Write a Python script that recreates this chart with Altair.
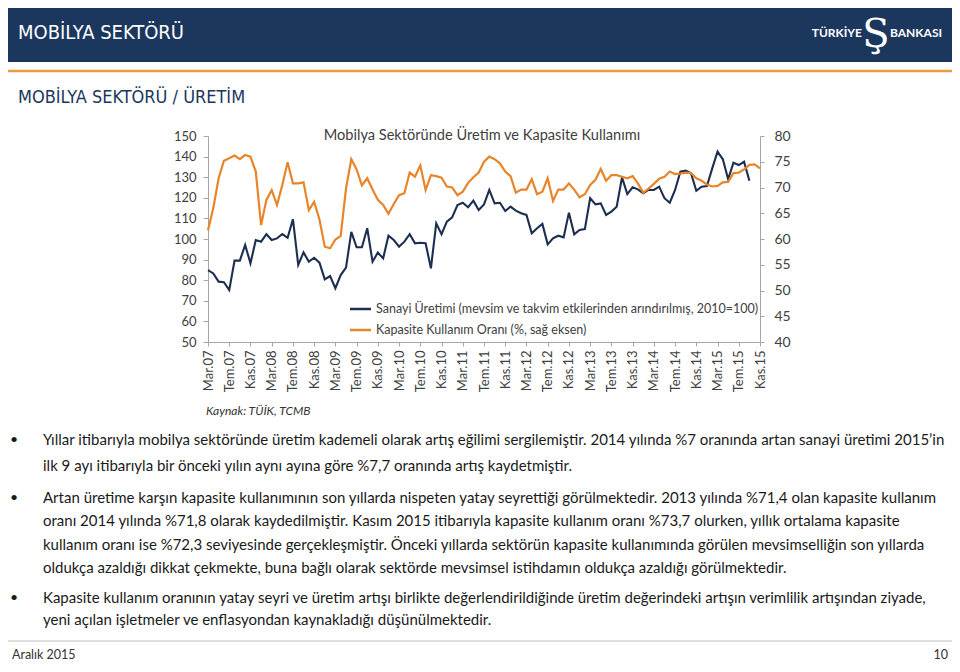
import altair as alt
import pandas as pd

# ---------------- data ----------------
ay_adlari = ["Oca", "Şub", "Mar", "Nis", "May", "Haz", "Tem", "Ağu", "Eyl", "Eki", "Kas", "Ara"]
aylar = []
for yil in range(2007, 2016):
    for m in range(12):
        if (yil == 2007 and m < 2) or (yil == 2015 and m > 10):
            continue
        aylar.append(f"{ay_adlari[m]}.{str(yil)[2:]}")

eksen_etiketleri = aylar[::4]

# Sanayi üretimi (2010=100), Mar.07 - Eyl.15
uretim = [84.9, 83.3, 79.3, 79.0, 75.2, 89.5, 89.5, 97.1, 88.2, 99.5,
          98.7, 102.3, 99.5, 100.3, 102.4, 100.6, 109.6, 87.4, 93.5, 89.0,
          90.9, 88.5, 80.4, 82.0, 76.1, 82.5, 86.1, 103.5, 96.0, 96.0,
          105.2, 89.0, 93.4, 90.6, 101.6, 99.5, 96.3, 98.7, 102.3, 97.9,
          98.2, 97.9, 85.8, 107.6, 102.3, 108.4, 110.5, 116.5, 117.6, 115.4,
          118.6, 114.1, 116.8, 123.8, 117.3, 117.6, 113.6, 115.7, 113.8, 112.5,
          111.7, 102.8, 105.2, 107.3, 97.4, 100.3, 101.6, 100.8, 112.8, 102.3,
          104.4, 104.8, 119.8, 116.8, 117.3, 111.7, 113.3, 115.7, 129.9, 121.8,
          125.1, 124.1, 122.2, 123.8, 123.8, 125.4, 119.8, 117.6, 123.8, 132.7,
          133.2, 131.9, 123.4, 125.4, 125.7, 134.3, 142.4, 138.7, 129.0, 137.0,
          135.9, 137.5, 128.3]

# Kapasite kullanım oranı (%), Mar.07 - Kas.15
kapasite = [61.7, 66.0, 71.8, 75.2, 75.7, 76.2, 75.5, 76.3, 76.0, 73.1,
            62.7, 67.6, 69.5, 66.6, 70.5, 74.9, 70.8, 70.8, 71.0, 65.6,
            67.2, 63.8, 58.5, 58.2, 59.9, 60.6, 69.8, 75.5, 73.5, 70.4,
            71.8, 69.6, 67.6, 66.6, 64.9, 66.8, 68.5, 68.9, 72.9, 72.1,
            74.3, 69.5, 72.4, 72.2, 71.9, 70.2, 70.0, 68.5, 69.2, 70.9,
            72.0, 72.9, 75.0, 76.0, 75.5, 74.7, 73.1, 72.2, 69.0, 69.6,
            69.6, 71.6, 68.7, 69.2, 71.8, 67.4, 69.6, 69.6, 70.8, 69.6,
            68.1, 68.7, 70.5, 71.5, 73.6, 71.3, 72.4, 72.4, 72.1, 71.8,
            72.2, 70.8, 69.0, 69.8, 70.7, 71.7, 72.1, 73.1, 72.6, 72.7,
            72.9, 72.8, 71.8, 71.3, 70.6, 70.2, 70.3, 71.0, 71.1, 72.8,
            72.9, 73.5, 74.4, 74.5, 73.7]

sol_eksen = list(range(50, 151, 10))
sag_eksen = list(range(40, 81, 5))

seri_adlari = ["Sanayi Üretimi (mevsim ve takvim etkilerinden arındırılmış, 2010=100)",
               "Kapasite Kullanım Oranı (%, sağ eksen)"]

baslik = "MOBİLYA SEKTÖRÜ"
alt_baslik = "MOBİLYA SEKTÖRÜ / ÜRETİM"
grafik_basligi = "Mobilya Sektöründe Üretim ve Kapasite Kullanımı"
kaynak = "Kaynak: TÜİK, TCMB"

paragraf_satirlari = [
    ("Yıllar itibarıyla mobilya sektöründe üretim kademeli olarak artış eğilimi sergilemiştir. 2014 yılında %7 oranında artan sanayi üretimi 2015’in", 440, True),
    ("ilk 9 ayı itibarıyla bir önceki yılın aynı ayına göre %7,7 oranında artış kaydetmiştir.", 466, False),
    ("Artan üretime karşın kapasite kullanımının son yıllarda nispeten yatay seyrettiği görülmektedir. 2013 yılında %71,4 olan kapasite kullanım", 498, True),
    ("oranı 2014 yılında %71,8 olarak kaydedilmiştir. Kasım 2015 itibarıyla kapasite kullanım oranı %73,7 olurken, yıllık ortalama kapasite", 521, False),
    ("kullanım oranı ise %72,3 seviyesinde gerçekleşmiştir. Önceki yıllarda sektörün kapasite kullanımında görülen mevsimselliğin son yıllarda", 545, False),
    ("oldukça azaldığı dikkat çekmekte, buna bağlı olarak sektörde mevsimsel istihdamın oldukça azaldığı görülmektedir.", 568, False),
    ("Kapasite kullanım oranının yatay seyri ve üretim artışı birlikte değerlendirildiğinde üretim değerindeki artışın verimlilik artışından ziyade,", 598, True),
    ("yeni açılan işletmeler ve enflasyondan kaynakladığı düşünülmektedir.", 620, False),
]

df_u = pd.DataFrame({"ay": aylar[:len(uretim)], "deger": uretim})
df_k = pd.DataFrame({"ay": aylar, "deger": kapasite})

# ---------------- style ----------------
NAVY = "#1b375e"
LINE_NAVY = "#1d2f50"
ORANGE = "#e8852a"
GREY_TXT = "#404040"
AXIS_GREY = "#a6a6a6"
FONT = "Lato"
HFONT = "Liberation Sans Narrow, DejaVu Sans Condensed, Lato, sans-serif"

X0, Y0 = 208, 136  # page position of plot origin
W, H = 552, 206

ONE = pd.DataFrame({"a": [0]})


def px(x):
    return x - X0


def py(y):
    return y - Y0


def txt(s, x, y, size, color, font=FONT, weight="normal", style="normal", align="left"):
    return alt.Chart(ONE).mark_text(
        text=s, align=align, baseline="middle", fontSize=size, font=font,
        fontWeight=weight, fontStyle=style, color=color
    ).encode(x=alt.value(px(x)), y=alt.value(py(y)))


xenc = alt.X("ay:O", scale=alt.Scale(type="point", domain=aylar, padding=0),
             axis=alt.Axis(values=eksen_etiketleri, labelAngle=-90, labelFontSize=13,
                           labelColor=GREY_TXT, labelFont=FONT, tickSize=4, tickColor=AXIS_GREY,
                           domainColor=AXIS_GREY, labelPadding=4, grid=False, title=None))

line_u = alt.Chart(df_u).mark_line(color=LINE_NAVY, strokeWidth=2.1).encode(
    x=xenc,
    y=alt.Y("deger:Q", scale=alt.Scale(domain=[50, 150], nice=False, zero=False),
            axis=alt.Axis(orient="left", values=sol_eksen, labelFontSize=13, labelColor=GREY_TXT,
                          labelFont=FONT, tickSize=5, tickColor=AXIS_GREY, domainColor=AXIS_GREY,
                          labelPadding=7, grid=False, title=None)))

line_k = alt.Chart(df_k).mark_line(color=ORANGE, strokeWidth=2.2).encode(
    x=xenc,
    y=alt.Y("deger:Q", scale=alt.Scale(domain=[40, 80], nice=False, zero=False),
            axis=alt.Axis(orient="right", values=sag_eksen, labelFontSize=14, labelColor=GREY_TXT,
                          labelFont=FONT, tickSize=4, tickColor=AXIS_GREY, domainColor=AXIS_GREY,
                          labelPadding=10, grid=False, title=None)))

chart_lines = alt.layer(line_u, line_k).resolve_scale(y="independent")

deco = []
# header
deco.append(alt.Chart(ONE).mark_rect(color=NAVY).encode(
    x=alt.value(px(3)), x2=alt.value(px(957)), y=alt.value(py(3)), y2=alt.value(py(62))))
deco.append(txt(baslik, 18, 33, 20, "white", font=HFONT))
deco.append(txt("TÜRKİYE", 862, 33, 12, "white", weight="bold", align="right"))
deco.append(txt("Ş", 876, 35, 40, "white", font="DejaVu Serif", align="center"))
deco.append(txt("BANKASI", 890, 33, 12, "white", weight="bold"))
# orange separator
deco.append(alt.Chart(ONE).mark_rule(color="#ec9a3c", strokeWidth=2.5).encode(
    x=alt.value(px(3)), x2=alt.value(px(957)), y=alt.value(py(71))))
deco.append(txt(alt_baslik, 18, 98, 18, NAVY, font=HFONT))
# chart title
deco.append(txt(grafik_basligi, 482, 136, 14.6, GREY_TXT, align="center"))
# legend
for i, (ad, renk) in enumerate(zip(seri_adlari, [LINE_NAVY, ORANGE])):
    yy = 309 + 21 * i
    deco.append(alt.Chart(ONE).mark_rule(color=renk, strokeWidth=2.5).encode(
        x=alt.value(px(350)), x2=alt.value(px(371)), y=alt.value(py(yy))))
    deco.append(txt(ad, 376, yy, 12.5, GREY_TXT))
# source
deco.append(txt(kaynak, 206, 411, 12, "#333333", style="italic"))
# paragraphs
for satir, yy, bullet in paragraf_satirlari:
    if bullet:
        deco.append(txt("•", 14, yy, 14, "#1a1a1a", align="center"))
    deco.append(txt(satir, 43, yy, 15, "#1a1a1a"))
# footer
deco.append(alt.Chart(ONE).mark_rule(color="#c0c0c0", strokeWidth=1).encode(
    x=alt.value(px(3)), x2=alt.value(px(957)), y=alt.value(py(641))))
deco.append(txt("Aralık 2015", 12, 655, 12.5, "#333333"))
deco.append(txt("10", 948, 655, 12.5, "#333333", align="right"))

chart = alt.layer(chart_lines, *deco).properties(
    width=W, height=H,
    padding={"left": 200, "top": 128, "right": 192, "bottom": 320},
    autosize=alt.AutoSizeParams(type="none"),
    background="white",
).configure_view(stroke=None)

chart.save("out.html", embed_options={"renderer": "svg", "actions": False})
